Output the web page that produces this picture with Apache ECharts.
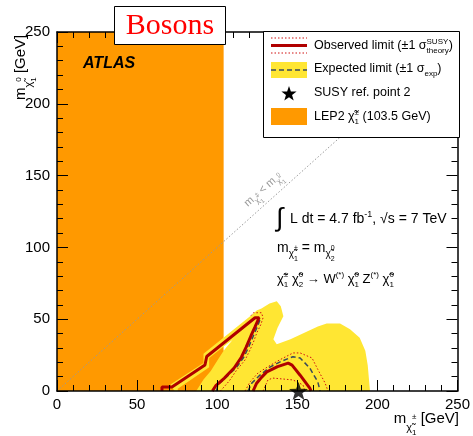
<!DOCTYPE html>
<html>
<head>
<meta charset="utf-8">
<script src="https://cdn.jsdelivr.net/npm/echarts@6.0.0/dist/echarts.min.js"></script>
<style>
  html, body { margin: 0; padding: 0; background: #fff; }
  #chart { width: 473px; height: 436px; }
</style>
</head>
<body>
<div id="chart"></div>
<script>
(function () {
  const FONT = '"Liberation Sans", Arial, Helvetica, sans-serif';
  const SERIF = '"Liberation Serif", "Times New Roman", serif';

  // axes (GeV)
  const xMax = 250;
  const yMax = 250;
  const majorStep = 50;

  // LEP2 chargino limit
  const lepLimit = 103.5;
  const diagonal = [[0, 0], [250, 250]];
  const refPoint = [[150, 0]];

  // expected +-1 sigma band (outer edge) and the two gaps inside it
  const bandOuter = [[73, 0], [70.5, 4.5], [91, 19.5], [91, 26], [121.5, 53.5], [124, 56], [127, 57.5],
    [132, 61], [136.5, 62.5], [139, 59], [140.6, 52], [137, 44], [134.4, 36], [136.5, 32.5],
    [145, 36], [155, 41.3], [162, 45], [167.5, 47], [175.8, 47], [182, 43], [188, 37],
    [191.5, 28], [193, 18], [194.4, 0]];
  const bandGapLep = [[75, 0], [75, 1.5], [92.5, 15], [94.5, 16.5], [94.5, 23], [103.5, 31],
    [103.5, 28], [99.5, 21], [95.5, 14], [91, 8], [86.5, 0]];
  const bandGapOut = [[103.5, 31], [107, 34], [109, 35.5], [106, 31.5], [103.5, 28]];

  // observed limit
  const obsLeft = [[65.2, 0], [65.2, 2.8], [71.4, 2.8], [91.9, 18.1], [93, 24], [123, 51], [125.5, 51],
    [123, 44.6], [120.5, 38.5], [117.5, 30.5], [114.5, 23.5], [110, 16], [104, 9], [98.5, 3.5], [96.5, 0]];
  const obsRight = [[121.8, 0], [124, 5.4], [127, 9.5], [130.3, 13.3], [137, 17], [143.6, 19.4],
    [146, 18], [151, 11], [157, 2], [157.8, 0]];

  // observed +-1 sigma theory
  const theoryUpLeft = [[101.5, 0], [107, 7], [111.6, 14.6], [116.8, 21.6], [119.9, 28.6], [122, 34],
    [124, 40.2], [126.5, 46], [128, 51], [127, 54.5], [122, 54.5], [120.5, 52.5]];
  const theoryUpRight = [[116.8, 0], [119.9, 6.3], [124.8, 12.5], [130.4, 16.5], [138, 21.5],
    [146.6, 26.5], [151, 26.5], [158.4, 23], [162, 15], [166.5, 5.6], [168.3, 0]];
  const theoryDownRight = [[128, 0], [131, 7.7], [134, 9], [146.6, 7.7], [152.8, 4.2], [154, 0]];

  // expected limit
  const expLeft = [[99, 0], [100, 4.5], [105.5, 10], [111.5, 16.5], [116, 23.5], [119, 30.5],
    [122, 38.5], [124.5, 45], [126.5, 51]];
  const expRight = [[118.6, 0], [121, 5.5], [125.5, 10.5], [132, 16.5], [139, 20.5], [146.6, 23.9],
    [151, 23], [157, 16], [162, 6.3], [163.4, 0]];

  const ORANGE = '#ff9900';
  const YELLOW = '#ffe633';
  const RED = '#b00000';
  const RED_DOT = '#d01010';
  const DASH = '#3a4a5a';
  const STAR = 'path://M0,-10 L2.35,-3.24 L9.51,-3.09 L3.8,1.24 L5.88,8.09 L0,4 L-5.88,8.09 L-3.8,1.24 L-9.51,-3.09 L-2.35,-3.24 Z';
  // a dash longer than any tick: draws solid, but keeps the ticks out of batched painting
  const TICK_LINE = [40, 1];

  const measureCtx = document.createElement('canvas').getContext('2d');
  function textWidth(str, font) {
    measureCtx.font = font;
    return measureCtx.measureText(str).width;
  }

  // five-pointed star outline for the legend
  function starOutline(cx, cy, r) {
    const pts = [];
    for (let i = 0; i < 10; i++) {
      const a = -Math.PI / 2 + i * Math.PI / 5;
      const rr = i % 2 ? r * 0.4 : r;
      pts.push([cx + rr * Math.cos(a), cy + rr * Math.sin(a)]);
    }
    return pts;
  }

  // parts: [text, size, baseline shift, stack on previous]
  function mathText(x, y, parts, opts) {
    opts = opts || {};
    const family = opts.family || FONT;
    const items = [];
    let cursor = 0;
    let lastStart = 0;
    parts.forEach(([t, size, shift = 0, stack = false]) => {
      const font = size + 'px ' + family;
      const start = stack ? lastStart : cursor;
      const w = textWidth(t, font);
      items.push({ t, font, x: start, y: shift + size * 0.2 });
      cursor = stack ? Math.max(cursor, start + w) : start + w;
      lastStart = start;
    });
    const offset = opts.align === 'right' ? -cursor : opts.align === 'center' ? -cursor / 2 : 0;
    return {
      type: 'group', x, y, rotation: opts.rotation || 0, z: 100,
      children: items.map(it => ({
        type: 'text', x: it.x + offset, y: it.y, z: 100,
        style: { text: it.t, font: it.font, fill: opts.color || '#000', align: 'left', verticalAlign: 'bottom' }
      }))
    };
  }

  function areaSeries(points, color, z) {
    return {
      type: 'custom', z, silent: true, clip: true,
      data: [[0, 0]],
      renderItem: (params, api) => ({
        type: 'polygon',
        shape: { points: points.map(p => api.coord(p)) },
        style: { fill: color }
      })
    };
  }

  function lineSeries(points, color, width, type, z) {
    return {
      type: 'line', data: points, z, silent: true,
      showSymbol: false, symbol: 'none',
      lineStyle: { color, width, type }
    };
  }

  // frame axes live on an overlay grid so their ticks sit above the filled areas
  function frameAxis(extra) {
    return Object.assign({
      type: 'value', gridIndex: 1, min: 0, interval: majorStep,
      axisLine: { show: true, onZero: false, lineStyle: { color: '#000', width: 1.5 } },
      axisTick: { show: true, inside: true, length: 11, lineStyle: { color: '#000', width: 1, type: TICK_LINE } },
      minorTick: { show: true, splitNumber: 5, length: 6, lineStyle: { color: '#000', width: 1, type: TICK_LINE } },
      splitLine: { show: false },
      axisLabel: { show: false },
      z: 20
    }, extra);
  }

  const tickLabel = { show: true, fontSize: 15, color: '#000', fontFamily: FONT };
  const plotRect = { left: 57, right: 13.5, top: 32, bottom: 45 };

  const chart = echarts.init(document.getElementById('chart'));

  const graphics = [
    // axis titles
    mathText(459, 423, [['m', 15], ['χ̃', 11, 8], ['±', 8, -4], ['1', 8, 12, true], [' [GeV]', 15]], { align: 'right' }),
    mathText(25, 100, [['m', 15], ['χ̃', 11, 7], ['0', 8, -4], ['1', 8, 11, true], [' [GeV]', 15]], { rotation: Math.PI / 2 }),

    // ATLAS label
    { type: 'text', x: 83, y: 64, z: 100,
      style: { text: 'ATLAS', font: 'italic bold 16px ' + FONT, fill: '#000', align: 'left', verticalAlign: 'middle' } },

    // Bosons box
    { type: 'rect', z: 100, shape: { x: 114.5, y: 6.5, width: 111, height: 38 },
      style: { fill: '#fff', stroke: '#000', lineWidth: 1 } },
    { type: 'text', x: 170, y: 26, z: 101,
      style: { text: 'Bosons', font: '30px ' + SERIF, fill: '#ff0000', align: 'center', verticalAlign: 'middle' } },

    // legend box
    { type: 'rect', z: 100, shape: { x: 263.5, y: 31.5, width: 196, height: 106 },
      style: { fill: '#fff', stroke: '#000', lineWidth: 1 } },
    { type: 'line', z: 101, shape: { x1: 271, y1: 38, x2: 307, y2: 38 },
      style: { stroke: RED_DOT, lineWidth: 1, lineDash: [1.5, 2] } },
    { type: 'line', z: 101, shape: { x1: 271, y1: 53, x2: 307, y2: 53 },
      style: { stroke: RED_DOT, lineWidth: 1, lineDash: [1.5, 2] } },
    { type: 'line', z: 101, shape: { x1: 271, y1: 45.5, x2: 307, y2: 45.5 },
      style: { stroke: RED, lineWidth: 3 } },
    { type: 'rect', z: 101, shape: { x: 271, y: 62, width: 36, height: 16 }, style: { fill: YELLOW } },
    { type: 'line', z: 102, shape: { x1: 271, y1: 70, x2: 307, y2: 70 },
      style: { stroke: DASH, lineWidth: 1.5, lineDash: [5, 3] } },
    { type: 'polygon', z: 101, shape: { points: starOutline(289, 94, 8) }, style: { fill: '#000' } },
    { type: 'rect', z: 101, shape: { x: 271, y: 108, width: 36, height: 17 }, style: { fill: ORANGE } },

    mathText(314, 50, [['Observed limit (±1 σ', 12.5], ['SUSY', 8, -6], ['theory', 8, 3, true], [')', 12.5]]),
    mathText(314, 73, [['Expected limit (±1 σ', 12.5], ['exp', 8, 3], [')', 12.5]]),
    mathText(314, 97, [['SUSY ref. point 2', 12.5]]),
    mathText(314, 121, [['LEP2 ', 12.5], ['χ̃', 12.5], ['±', 8, -6], ['1', 8, 3, true], [' (103.5 GeV)', 12.5]]),

    // annotations
    mathText(276, 227, [['∫', 26]]),
    mathText(290, 223, [['L dt = 4.7 fb', 14], ['-1', 9, -6], [', √s = 7 TeV', 14]]),
    mathText(277, 252, [['m', 14], ['χ̃', 10, 5], ['±', 7, -2], ['1', 7, 9, true], [' = m', 14],
      ['χ̃', 10, 5], ['0', 7, -2], ['2', 7, 9, true]]),
    mathText(277, 283, [['χ̃', 13], ['±', 8, -6], ['1', 8, 4, true], [' χ̃', 13], ['0', 8, -6], ['2', 8, 4, true],
      [' → W', 13], ['(*)', 8, -6], [' χ̃', 13], ['0', 8, -6], ['1', 8, 4, true],
      [' Z', 13], ['(*)', 8, -6], [' χ̃', 13], ['0', 8, -6], ['1', 8, 4, true]]),
    mathText(265, 192, [['m', 11], ['χ̃', 8, 4], ['±', 6, -2], ['1', 6, 7, true], [' < m', 11],
      ['χ̃', 8, 4], ['0', 6, -2], ['1', 6, 7, true]], { color: '#999', align: 'center', rotation: 41.7 * Math.PI / 180 })
  ];

  chart.setOption({
    animation: false,
    grid: [Object.assign({}, plotRect), Object.assign({}, plotRect)],
    xAxis: [
      { type: 'value', gridIndex: 0, min: 0, max: xMax, show: false },
      frameAxis({ max: xMax, position: 'bottom', axisLabel: Object.assign({ margin: 6 }, tickLabel) }),
      frameAxis({ max: xMax, position: 'top' })
    ],
    yAxis: [
      { type: 'value', gridIndex: 0, min: 0, max: yMax, show: false },
      frameAxis({ max: yMax, position: 'left', axisLabel: Object.assign({ margin: 7 }, tickLabel) }),
      frameAxis({ max: yMax, position: 'right' })
    ],
    series: [
      areaSeries([[0, 0], [lepLimit, 0], [lepLimit, yMax], [0, yMax]], ORANGE, 1),
      Object.assign(lineSeries(diagonal, '#999', 1, [1.5, 2], 2), { xAxisIndex: 1, yAxisIndex: 1 }),
      areaSeries(bandOuter, YELLOW, 3),
      areaSeries(bandGapLep, ORANGE, 4),
      areaSeries(bandGapOut, '#fff', 4),
      lineSeries(theoryUpLeft, RED_DOT, 1, [1.5, 2], 5),
      lineSeries(theoryUpRight, RED_DOT, 1, [1.5, 2], 5),
      lineSeries(theoryDownRight, RED_DOT, 1, [1.5, 2], 5),
      lineSeries(expLeft, DASH, 1.5, [5, 3], 6),
      lineSeries(expRight, DASH, 1.5, [5, 3], 6),
      lineSeries(obsLeft, RED, 3, 'solid', 7),
      lineSeries(obsRight, RED, 3, 'solid', 7),
      {
        type: 'scatter', data: refPoint, z: 8, silent: true,
        symbol: STAR, symbolSize: [19, 18],
        itemStyle: { color: '#000' }
      }
    ],
    graphic: graphics
  });

  window.addEventListener('resize', () => chart.resize());
})();
</script>
</body>
</html>
